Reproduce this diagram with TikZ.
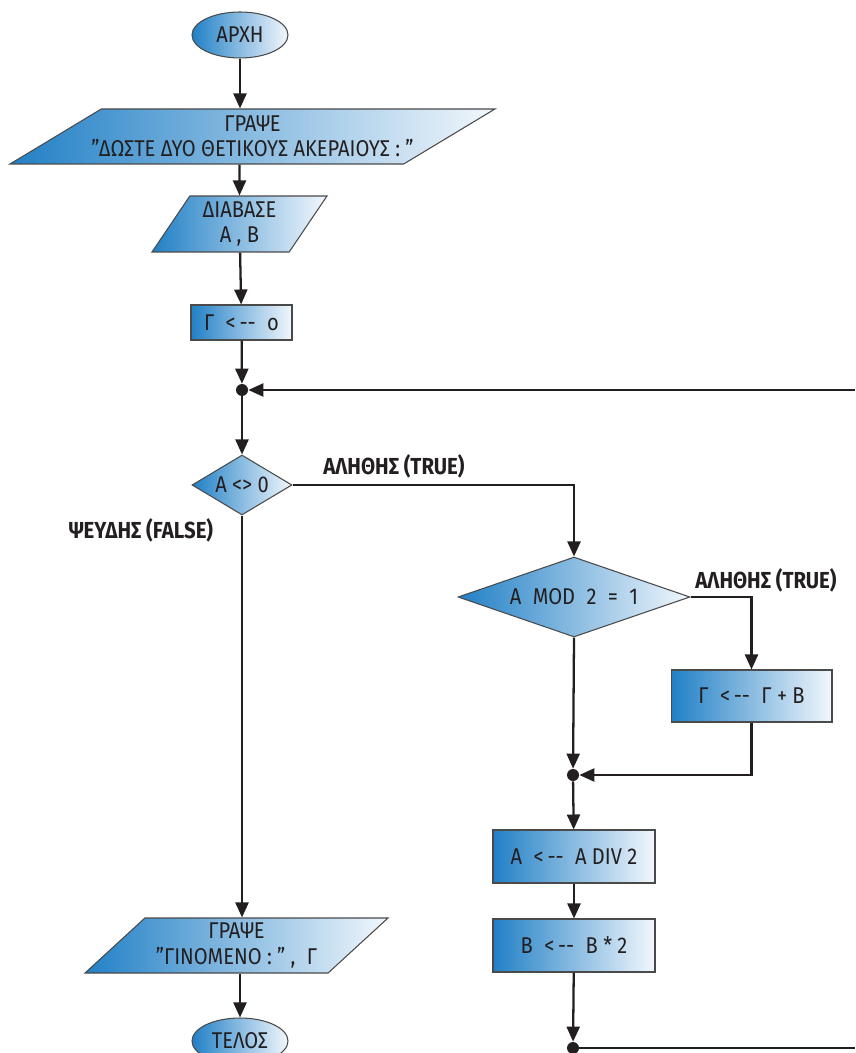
\documentclass[tikz,border=0pt]{standalone}
\usepackage{fontspec}
\setmainfont{Fira Sans}[FakeStretch=0.88]
\usepackage{xcolor}
\usepackage{tikz}
\usetikzlibrary{positioning, arrows.meta, shapes.geometric}
\definecolor{flowblue}{HTML}{2180C6}
\definecolor{flowpale}{HTML}{F2F7FC}
\definecolor{flowedge}{HTML}{4A4A4A}
\definecolor{inkgray}{HTML}{231F20}

\tikzset{
  box/.style={draw=flowedge, line width=0.6pt, left color=flowblue, right color=flowpale,
              text=inkgray, font=\fontsize{13}{14.5}\selectfont, inner sep=2pt, align=center},
  proc/.style={box, rectangle},
  io/.style={box, trapezium, trapezium stretches body, minimum height=1.1cm},
  decision/.style={box, diamond, inner sep=0pt},
  term/.style={box, ellipse, minimum width=1.92cm, minimum height=0.92cm},
  junction/.style={circle, fill=inkgray, inner sep=0pt, minimum size=2.4mm},
  wire/.style={draw=inkgray, line width=1.3pt},
  flow/.style={wire, -{Triangle[length=3mm, width=2.6mm]}},
  branch/.style={font=\bfseries\fontsize{13.2}{15}\selectfont, text=inkgray, inner sep=0pt}
}

\begin{document}
\begin{tikzpicture}[x=0.02cm, y=-0.02cm]
  \useasboundingbox (0,0) rectangle (855,1053);

  % left column
  \node[term] (arxh) at (240,35) {ΑΡΧΗ};
  \node[io, trapezium left angle=28, trapezium right angle=152, minimum width=9.7cm, inner xsep=-0.5cm]
    (grapse) at (252.5,136.5) {ΓΡΑΨΕ\\"ΔΩΣΤΕ ΔΥΟ ΘΕΤΙΚΟΥΣ ΑΚΕΡΑΙΟΥΣ : "};
  \node[io, trapezium left angle=54, trapezium right angle=126, minimum width=3.5cm, minimum height=1.12cm]
    (diavase) at (239.5,224) {ΔΙΑΒΑΣΕ\\Α , Β};
  \node[proc, minimum width=2.02cm, minimum height=0.7cm] (gammazero) at (241.5,322.5) {Γ\enspace <\,-{}-\enspace ο};
  \node[junction] (loopdot) at (242,390) {};
  \node[decision, aspect=1.67, minimum width=2cm, minimum height=1.2cm] (notzero) at (242,485) {Α <> 0};
  \node[io, trapezium left angle=41, trapezium right angle=139, minimum width=6.06cm]
    (grapseres) at (236.5,945.5) {ΓΡΑΨΕ\\"ΓΙΝΟΜΕΝΟ : " ,\enspace Γ};
  \node[term] (telos) at (240,1041) {ΤΕΛΟΣ};

  % right column
  \node[decision, aspect=2.9, minimum width=4.64cm, minimum height=1.6cm] (odd) at (574,597) {Α\enspace MOD\enspace 2\enspace =\enspace 1};
  \node[proc, minimum width=3.22cm, minimum height=1.04cm] (addb) at (751.5,696) {Γ\enspace <\,-{}-\enspace Γ + Β};
  \node[junction] (joindot) at (573,775) {};
  \node[proc, minimum width=3.24cm, minimum height=1.06cm] (halve) at (574,856.5) {Α\enspace <\,-{}-\enspace Α DIV 2};
  \node[proc, minimum width=3.24cm, minimum height=1.06cm] (double) at (574,945.5) {Β\enspace <\,-{}-\enspace Β * 2};
  \node[junction] (enddot) at (573,1048) {};
  \coordinate (loopin) at (855,390);
  \coordinate (loopout) at (855,1048);

  % branch labels
  \node[branch] (true1) at (394,466) {ΑΛΗΘΗΣ (TRUE)};
  \node[branch] (false1) at (141,530) {ΨΕΥΔΗΣ (FALSE)};
  \node[branch] (true2) at (766,580) {ΑΛΗΘΗΣ (TRUE)};

  % connectors
  \draw[flow] (arxh) -- (arxh |- grapse.north);
  \draw[flow] (grapse.south -| diavase) -- (diavase.north);
  \draw[flow] (diavase) -- (gammazero);
  \draw[flow] (gammazero) -- (loopdot);
  \draw[flow] (loopin) -- (loopdot);
  \draw[flow] (loopdot) -- (notzero);
  \draw[flow] (notzero.east) -| (odd.north);
  \draw[flow] (notzero.south) -- (notzero.south |- grapseres.north);
  \draw[flow] (grapseres.south -| telos) -- (telos.north);
  \draw[flow] (odd.east) -| (addb.north);
  \draw[flow] (odd.south) -- (joindot);
  \draw[flow] (addb.south) |- (joindot);
  \draw[flow] (joindot) -- (halve);
  \draw[flow] (halve) -- (double);
  \draw[flow] (double) -- (enddot);
  \draw[wire] (enddot) -- (loopout);
\end{tikzpicture}
\end{document}
